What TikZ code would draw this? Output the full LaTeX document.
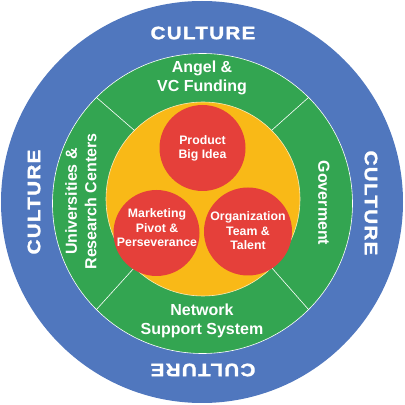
\documentclass[tikz,border=0pt]{standalone}
\usepackage{fontspec}
\setmainfont{Liberation Sans}
\newfontfamily\culturefont[LetterSpace=6,FakeBold=1.6]{Liberation Sans Bold}
\usepackage{tikz}

\definecolor{ringblue}{HTML}{5077BE}
\definecolor{ringgreen}{HTML}{33A551}
\definecolor{coreyellow}{HTML}{F9B917}
\definecolor{hubred}{HTML}{E5403A}

\begin{document}
\begin{tikzpicture}[x=1pt,y=1pt]
\tikzstyle{ring} = [circle, inner sep=0pt, outer sep=0pt]
\tikzstyle{hub} = [circle, inner sep=0pt, outer sep=0pt, fill=hubred, minimum size=86]
\tikzstyle{culturetext} = [text=white, font={\culturefont\fontsize{18}{18}\selectfont}]
\tikzstyle{ringtext} = [text=white, align=center, font={\bfseries\fontsize{16}{19.5}\selectfont}]
\tikzstyle{hubtext} = [text=white, align=center, font={\bfseries\fontsize{12.3}{14.5}\selectfont}]
\useasboundingbox (0,0) rectangle (405,405);

% rings
\node[ring, fill=ringblue, minimum size=402](culture) at (202,203) {};
\node[ring, fill=ringgreen, draw=white, line width=0.6pt, minimum size=300](support) at (202.5,201.5) {};
\node[ring, fill=coreyellow, draw=white!70!coreyellow, line width=0.6pt, minimum size=194](core) at (203,206) {};
\foreach \a in {45,135,225,315}
\draw [white, line width=0.6pt] (core.\a) -- (support.\a);

% hubs
\node[hub](product) at (202.5,257) {};
\node[hub](marketing) at (156.5,172) {};
\node[hub, minimum size=88](organization) at (248,173.5) {};

% culture
\node[culturetext](culturetop) at (203,372) {\scalebox{1.15}[1]{CULTURE}};
\node[culturetext, rotate=90](cultureleft) at (34,203) {\scalebox{1.15}[1]{CULTURE}};
\node[culturetext, rotate=-90](cultureright) at (371,202) {\scalebox{1.15}[1]{CULTURE}};
\node[culturetext, rotate=180](culturebottom) at (203,35) {\scalebox{1.15}[1]{CULTURE}};

% support ring
\node[ringtext](funding) at (202,327) {Angel \&\\VC Funding};
\node[ringtext](network) at (202,84) {Network\\Support System};
\node[ringtext, rotate=90](universities) at (81,203.5) {Universities \&\\Research Centers};
\node[ringtext, rotate=-90](goverment) at (324,202) {Goverment};

% hub texts
\node[hubtext](producttxt) at (202.5,256.5) {Product\\Big Idea};
\node[hubtext](marketingtxt) at (157,177) {Marketing\\Pivot \&\\Perseverance};
\node[hubtext](organizationtxt) at (248,174) {Organization\\Team \&\\Talent};
\end{tikzpicture}
\end{document}
